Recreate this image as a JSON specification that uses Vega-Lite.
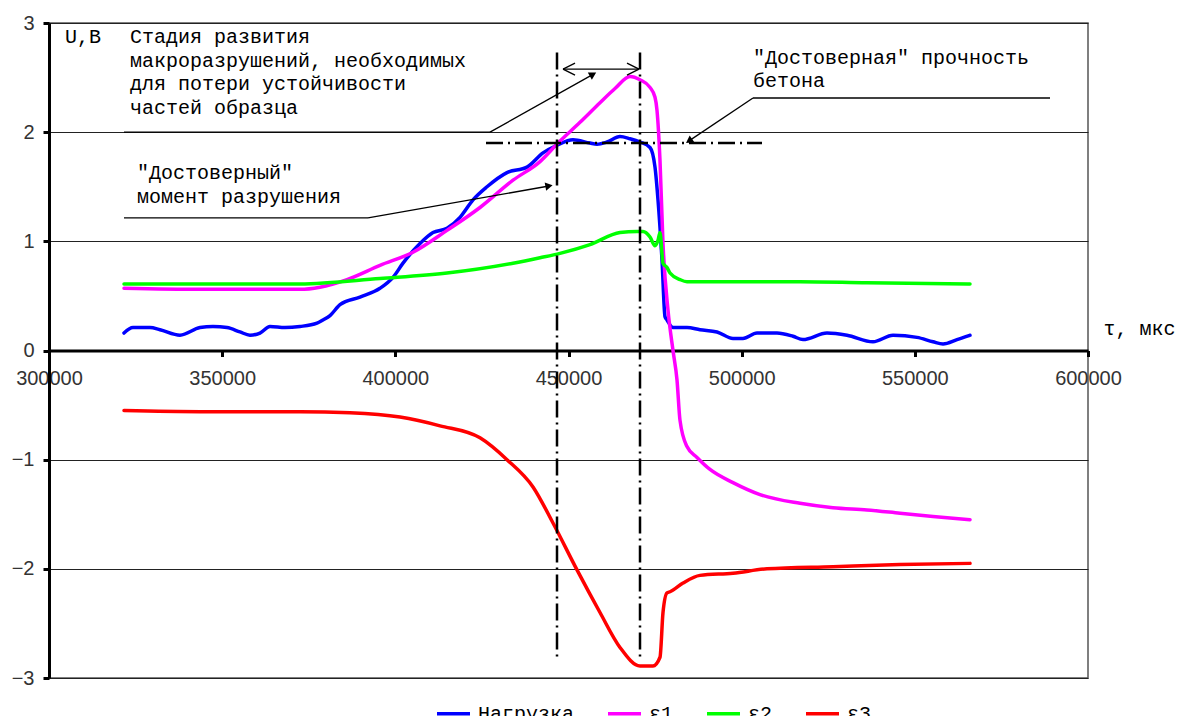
{
  "$schema": "https://vega.github.io/schema/vega-lite/v6.json",
  "autosize": "none",
  "width": 1039,
  "height": 655,
  "padding": {"left": 49, "top": 23, "right": 90, "bottom": 38},
  "background": "white",
  "config": {
    "view": {"stroke": "#555", "strokeWidth": 1.5},
    "font": "Liberation Mono"
  },
  "datasets": {
    "series": [
      {"t": 321656, "v": 0.16, "s": "Нагрузка"},
      {"t": 324254, "v": 0.21, "s": "Нагрузка"},
      {"t": 329163, "v": 0.21, "s": "Нагрузка"},
      {"t": 332050, "v": 0.19, "s": "Нагрузка"},
      {"t": 337825, "v": 0.14, "s": "Нагрузка"},
      {"t": 343600, "v": 0.21, "s": "Нагрузка"},
      {"t": 347353, "v": 0.22, "s": "Нагрузка"},
      {"t": 351396, "v": 0.21, "s": "Нагрузка"},
      {"t": 355150, "v": 0.17, "s": "Нагрузка"},
      {"t": 358037, "v": 0.14, "s": "Нагрузка"},
      {"t": 360924, "v": 0.16, "s": "Нагрузка"},
      {"t": 363812, "v": 0.22, "s": "Нагрузка"},
      {"t": 368143, "v": 0.21, "s": "Нагрузка"},
      {"t": 372474, "v": 0.22, "s": "Нагрузка"},
      {"t": 377382, "v": 0.25, "s": "Нагрузка"},
      {"t": 379115, "v": 0.28, "s": "Нагрузка"},
      {"t": 381136, "v": 0.32, "s": "Нагрузка"},
      {"t": 384023, "v": 0.42, "s": "Нагрузка"},
      {"t": 389798, "v": 0.49, "s": "Нагрузка"},
      {"t": 395573, "v": 0.57, "s": "Нагрузка"},
      {"t": 399327, "v": 0.67, "s": "Нагрузка"},
      {"t": 402214, "v": 0.80, "s": "Нагрузка"},
      {"t": 407123, "v": 0.98, "s": "Нагрузка"},
      {"t": 410876, "v": 1.08, "s": "Нагрузка"},
      {"t": 414919, "v": 1.12, "s": "Нагрузка"},
      {"t": 418672, "v": 1.22, "s": "Нагрузка"},
      {"t": 422426, "v": 1.38, "s": "Нагрузка"},
      {"t": 426468, "v": 1.50, "s": "Нагрузка"},
      {"t": 432243, "v": 1.63, "s": "Нагрузка"},
      {"t": 438018, "v": 1.68, "s": "Нагрузка"},
      {"t": 442638, "v": 1.81, "s": "Нагрузка"},
      {"t": 446680, "v": 1.88, "s": "Нагрузка"},
      {"t": 451300, "v": 1.93, "s": "Нагрузка"},
      {"t": 456208, "v": 1.90, "s": "Нагрузка"},
      {"t": 458230, "v": 1.89, "s": "Нагрузка"},
      {"t": 461117, "v": 1.91, "s": "Нагрузка"},
      {"t": 464870, "v": 1.96, "s": "Нагрузка"},
      {"t": 467758, "v": 1.94, "s": "Нагрузка"},
      {"t": 470645, "v": 1.91, "s": "Нагрузка"},
      {"t": 473533, "v": 1.86, "s": "Нагрузка"},
      {"t": 474976, "v": 1.68, "s": "Нагрузка"},
      {"t": 475843, "v": 1.38, "s": "Нагрузка"},
      {"t": 476998, "v": 0.83, "s": "Нагрузка"},
      {"t": 477864, "v": 0.31, "s": "Нагрузка"},
      {"t": 478441, "v": 0.28, "s": "Нагрузка"},
      {"t": 480174, "v": 0.21, "s": "Нагрузка"},
      {"t": 484216, "v": 0.21, "s": "Нагрузка"},
      {"t": 487969, "v": 0.19, "s": "Нагрузка"},
      {"t": 492878, "v": 0.17, "s": "Нагрузка"},
      {"t": 497498, "v": 0.11, "s": "Нагрузка"},
      {"t": 500386, "v": 0.11, "s": "Нагрузка"},
      {"t": 504428, "v": 0.16, "s": "Нагрузка"},
      {"t": 510203, "v": 0.16, "s": "Нагрузка"},
      {"t": 514823, "v": 0.13, "s": "Нагрузка"},
      {"t": 517710, "v": 0.10, "s": "Нагрузка"},
      {"t": 524640, "v": 0.16, "s": "Нагрузка"},
      {"t": 530415, "v": 0.14, "s": "Нагрузка"},
      {"t": 537922, "v": 0.08, "s": "Нагрузка"},
      {"t": 543697, "v": 0.14, "s": "Нагрузка"},
      {"t": 550626, "v": 0.12, "s": "Нагрузка"},
      {"t": 555246, "v": 0.08, "s": "Нагрузка"},
      {"t": 558134, "v": 0.06, "s": "Нагрузка"},
      {"t": 562176, "v": 0.10, "s": "Нагрузка"},
      {"t": 565930, "v": 0.14, "s": "Нагрузка"},

      {"t": 321656, "v": 0.57, "s": "ε1"},
      {"t": 343600, "v": 0.56, "s": "ε1"},
      {"t": 372474, "v": 0.56, "s": "ε1"},
      {"t": 378249, "v": 0.58, "s": "ε1"},
      {"t": 386045, "v": 0.65, "s": "ε1"},
      {"t": 395573, "v": 0.78, "s": "ε1"},
      {"t": 405101, "v": 0.90, "s": "ε1"},
      {"t": 414919, "v": 1.10, "s": "ε1"},
      {"t": 424447, "v": 1.31, "s": "ε1"},
      {"t": 433976, "v": 1.56, "s": "ε1"},
      {"t": 441771, "v": 1.73, "s": "ε1"},
      {"t": 446969, "v": 1.90, "s": "ε1"},
      {"t": 453321, "v": 2.09, "s": "ε1"},
      {"t": 459095, "v": 2.27, "s": "ε1"},
      {"t": 463427, "v": 2.40, "s": "ε1"},
      {"t": 467758, "v": 2.51, "s": "ε1"},
      {"t": 470645, "v": 2.48, "s": "ε1"},
      {"t": 473533, "v": 2.41, "s": "ε1"},
      {"t": 474976, "v": 2.32, "s": "ε1"},
      {"t": 475554, "v": 2.20, "s": "ε1"},
      {"t": 476420, "v": 1.74, "s": "ε1"},
      {"t": 477286, "v": 0.98, "s": "ε1"},
      {"t": 478730, "v": 0.37, "s": "ε1"},
      {"t": 480174, "v": 0.00, "s": "ε1"},
      {"t": 481329, "v": -0.27, "s": "ε1"},
      {"t": 482195, "v": -0.64, "s": "ε1"},
      {"t": 484216, "v": -0.88, "s": "ε1"},
      {"t": 487103, "v": -0.98, "s": "ε1"},
      {"t": 490857, "v": -1.09, "s": "ε1"},
      {"t": 497498, "v": -1.21, "s": "ε1"},
      {"t": 505294, "v": -1.32, "s": "ε1"},
      {"t": 516844, "v": -1.40, "s": "ε1"},
      {"t": 526372, "v": -1.44, "s": "ε1"},
      {"t": 536189, "v": -1.46, "s": "ε1"},
      {"t": 545718, "v": -1.49, "s": "ε1"},
      {"t": 555246, "v": -1.52, "s": "ε1"},
      {"t": 565930, "v": -1.55, "s": "ε1"},

      {"t": 321656, "v": 0.61, "s": "ε2"},
      {"t": 343600, "v": 0.61, "s": "ε2"},
      {"t": 372474, "v": 0.61, "s": "ε2"},
      {"t": 395573, "v": 0.66, "s": "ε2"},
      {"t": 414919, "v": 0.71, "s": "ε2"},
      {"t": 433976, "v": 0.80, "s": "ε2"},
      {"t": 441771, "v": 0.85, "s": "ε2"},
      {"t": 447547, "v": 0.89, "s": "ε2"},
      {"t": 456208, "v": 0.97, "s": "ε2"},
      {"t": 464870, "v": 1.08, "s": "ε2"},
      {"t": 469779, "v": 1.09, "s": "ε2"},
      {"t": 471511, "v": 1.09, "s": "ε2"},
      {"t": 473533, "v": 1.04, "s": "ε2"},
      {"t": 474976, "v": 0.96, "s": "ε2"},
      {"t": 475843, "v": 1.01, "s": "ε2"},
      {"t": 476420, "v": 1.08, "s": "ε2"},
      {"t": 477286, "v": 0.80, "s": "ε2"},
      {"t": 478441, "v": 0.76, "s": "ε2"},
      {"t": 479307, "v": 0.71, "s": "ε2"},
      {"t": 482195, "v": 0.65, "s": "ε2"},
      {"t": 484216, "v": 0.63, "s": "ε2"},
      {"t": 497498, "v": 0.63, "s": "ε2"},
      {"t": 516844, "v": 0.63, "s": "ε2"},
      {"t": 536189, "v": 0.62, "s": "ε2"},
      {"t": 565930, "v": 0.61, "s": "ε2"},

      {"t": 321656, "v": -0.55, "s": "ε3"},
      {"t": 343600, "v": -0.56, "s": "ε3"},
      {"t": 372474, "v": -0.56, "s": "ε3"},
      {"t": 386911, "v": -0.57, "s": "ε3"},
      {"t": 401348, "v": -0.61, "s": "ε3"},
      {"t": 412898, "v": -0.69, "s": "ε3"},
      {"t": 424447, "v": -0.80, "s": "ε3"},
      {"t": 432243, "v": -1.00, "s": "ε3"},
      {"t": 439751, "v": -1.25, "s": "ε3"},
      {"t": 445525, "v": -1.58, "s": "ε3"},
      {"t": 452455, "v": -2.01, "s": "ε3"},
      {"t": 459095, "v": -2.40, "s": "ε3"},
      {"t": 464870, "v": -2.72, "s": "ε3"},
      {"t": 470645, "v": -2.89, "s": "ε3"},
      {"t": 474399, "v": -2.89, "s": "ε3"},
      {"t": 476420, "v": -2.81, "s": "ε3"},
      {"t": 477286, "v": -2.40, "s": "ε3"},
      {"t": 478441, "v": -2.22, "s": "ε3"},
      {"t": 479307, "v": -2.21, "s": "ε3"},
      {"t": 483061, "v": -2.13, "s": "ε3"},
      {"t": 487969, "v": -2.06, "s": "ε3"},
      {"t": 497498, "v": -2.04, "s": "ε3"},
      {"t": 507316, "v": -2.00, "s": "ε3"},
      {"t": 526372, "v": -1.98, "s": "ε3"},
      {"t": 545718, "v": -1.96, "s": "ε3"},
      {"t": 565930, "v": -1.95, "s": "ε3"}
    ],
    "dashdot": [
      {"x": 446680, "y": 2.73, "x2": 446680, "y2": -2.82},
      {"x": 470645, "y": 2.73, "x2": 470645, "y2": -2.84},
      {"x": 426180, "y": 1.90, "x2": 505870, "y2": 1.90}
    ],
    "leaders": [
      {"x": 321656, "y": 2.0, "x2": 427334, "y2": 2.0},
      {"x": 427334, "y": 2.0, "x2": 457075, "y2": 2.53},
      {"x": 321656, "y": 1.214, "x2": 392108, "y2": 1.214},
      {"x": 392108, "y": 1.214, "x2": 444370, "y2": 1.507},
      {"x": 503273, "y": 2.313, "x2": 589028, "y2": 2.313},
      {"x": 503273, "y": 2.313, "x2": 484795, "y2": 1.92},
      {"x": 448415, "y": 2.578, "x2": 470356, "y2": 2.578},
      {"x": 448415, "y": 2.578, "x2": 451880, "y2": 2.633},
      {"x": 448415, "y": 2.578, "x2": 451880, "y2": 2.523},
      {"x": 470356, "y": 2.578, "x2": 466891, "y2": 2.633},
      {"x": 470356, "y": 2.578, "x2": 466891, "y2": 2.523}
    ],
    "heads": [
      {"id": "a", "x": 457075, "y": 2.53},
      {"id": "b", "x": 444370, "y": 1.507},
      {"id": "c", "x": 484795, "y": 1.92}
    ],
    "notes": [
      {"x": 304620, "y": 2.96, "label": "U,B"},
      {"x": 323390, "y": 2.96, "label": "Стадия развития\nмакроразрушений, необходимых\nдля потери устойчивости\nчастей образца"},
      {"x": 325410, "y": 1.717, "label": "\"Достоверный\"\nмомент разрушения"},
      {"x": 503273, "y": 2.771, "label": "\"Достоверная\" прочность\nбетона"}
    ]
  },
  "layer": [
    {
      "data": {"name": "series"},
      "mark": {"type": "line", "strokeWidth": 3.5, "strokeJoin": "round", "strokeCap": "round", "interpolate": "monotone"},
      "encoding": {
        "x": {
          "field": "t", "type": "quantitative",
          "scale": {"domain": [300000, 600000], "nice": false, "zero": false},
          "axis": {
            "values": [300000, 350000, 400000, 450000, 500000, 550000, 600000],
            "format": "d",
            "offset": -327.5,
            "grid": false,
            "domainWidth": 3, "domainColor": "black",
            "tickWidth": 3, "tickColor": "black", "tickSize": 6,
            "labelFont": "Liberation Sans", "labelFontSize": 20, "labelColor": "#333",
            "labelPadding": 12, "labelFlush": false, "labelOverlap": false,
            "title": "τ, мкс",
            "titleX": 1054, "titleY": -22, "titleAlign": "left", "titleBaseline": "middle",
            "titleFont": "Liberation Mono", "titleFontSize": 20, "titleFontWeight": "normal", "titleColor": "black"
          }
        },
        "y": {
          "field": "v", "type": "quantitative",
          "scale": {"domain": [-3, 3], "nice": false, "zero": false},
          "axis": {
            "values": [-3, -2, -1, 0, 1, 2, 3],
            "format": "d",
            "grid": true, "gridColor": "#222", "gridWidth": 1,
            "domainWidth": 3, "domainColor": "black",
            "tickWidth": 3, "tickColor": "black", "tickSize": 6,
            "labelFont": "Liberation Sans", "labelFontSize": 20, "labelColor": "#333",
            "labelPadding": 9,
            "title": null
          }
        },
        "color": {
          "field": "s", "type": "nominal",
          "scale": {"domain": ["Нагрузка", "ε1", "ε2", "ε3"], "range": ["#0000ff", "#ff00ff", "#00ff00", "#ff0000"]},
          "legend": {
            "orient": "none", "legendX": 386, "legendY": 672,
            "direction": "horizontal", "title": null, "padding": 0,
            "symbolType": "stroke", "symbolSize": 1089, "symbolStrokeWidth": 3.5,
            "labelFont": "Liberation Mono", "labelFontSize": 20, "labelColor": "black",
            "labelOffset": 6, "columnPadding": 26
          }
        }
      }
    },
    {
      "data": {"name": "dashdot"},
      "mark": {"type": "rule", "color": "black", "strokeWidth": 2.5, "strokeDash": [17, 5, 2, 5]},
      "encoding": {
        "x": {"field": "x", "type": "quantitative"},
        "y": {"field": "y", "type": "quantitative"},
        "x2": {"field": "x2"},
        "y2": {"field": "y2"}
      }
    },
    {
      "data": {"name": "leaders"},
      "mark": {"type": "rule", "color": "black", "strokeWidth": 1.3},
      "encoding": {
        "x": {"field": "x", "type": "quantitative"},
        "y": {"field": "y", "type": "quantitative"},
        "x2": {"field": "x2"},
        "y2": {"field": "y2"}
      }
    },
    {
      "data": {"name": "heads"},
      "transform": [{"filter": "datum.id === 'a'"}],
      "mark": {"type": "point", "shape": "triangle-up", "filled": true, "color": "black", "opacity": 1, "size": 70, "angle": 61},
      "encoding": {"x": {"field": "x", "type": "quantitative"}, "y": {"field": "y", "type": "quantitative"}}
    },
    {
      "data": {"name": "heads"},
      "transform": [{"filter": "datum.id === 'b'"}],
      "mark": {"type": "point", "shape": "triangle-up", "filled": true, "color": "black", "opacity": 1, "size": 70, "angle": 80},
      "encoding": {"x": {"field": "x", "type": "quantitative"}, "y": {"field": "y", "type": "quantitative"}}
    },
    {
      "data": {"name": "heads"},
      "transform": [{"filter": "datum.id === 'c'"}],
      "mark": {"type": "point", "shape": "triangle-up", "filled": true, "color": "black", "opacity": 1, "size": 70, "angle": 236},
      "encoding": {"x": {"field": "x", "type": "quantitative"}, "y": {"field": "y", "type": "quantitative"}}
    },
    {
      "data": {"name": "notes"},
      "mark": {"type": "text", "align": "left", "baseline": "top", "lineBreak": "\n", "lineHeight": 23.5, "font": "Liberation Mono", "fontSize": 20, "color": "black"},
      "encoding": {
        "x": {"field": "x", "type": "quantitative"},
        "y": {"field": "y", "type": "quantitative"},
        "text": {"field": "label"}
      }
    }
  ]
}
